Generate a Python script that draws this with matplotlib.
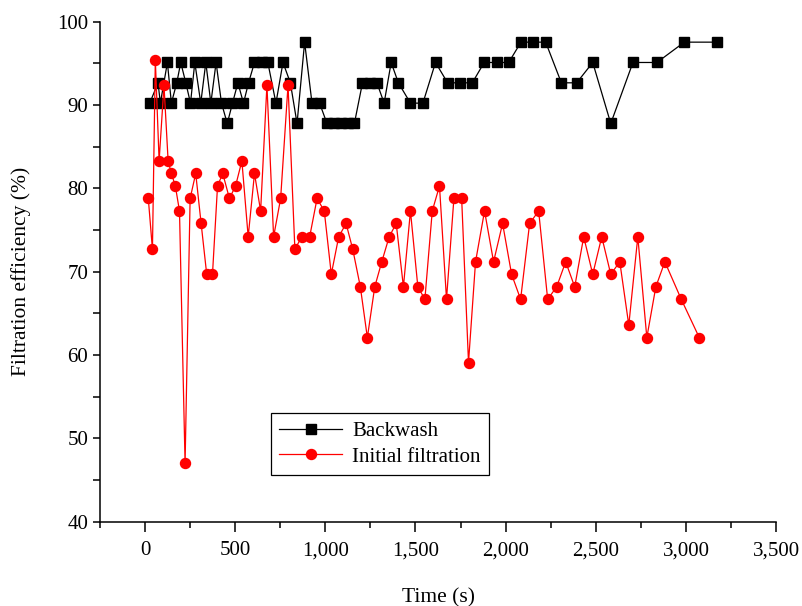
import numpy as np
import matplotlib.pyplot as plt
from matplotlib.ticker import MultipleLocator, FuncFormatter

plt.rcParams['font.family'] = ['Liberation Serif', 'DejaVu Serif']

# backwash series
t_back = [26, 72, 85, 124, 146, 176, 198, 226, 252, 276, 309, 337, 365, 394, 424, 456,
          485, 515, 546, 574, 607, 648, 681, 726, 765, 806, 843, 885, 926, 968,
          1009, 1047, 1085, 1123, 1161, 1206, 1246, 1286, 1326, 1365, 1405, 1472,
          1541, 1611, 1678, 1746, 1815, 1881, 1950, 2017, 2085, 2154, 2222, 2309,
          2394, 2483, 2583, 2706, 2839, 2991, 3172]
e_back = [90.24, 92.68, 90.24, 95.12, 90.24, 92.68, 95.12, 92.68, 90.24, 95.12, 90.24,
          95.12, 90.24, 95.12, 90.24, 87.80,
          90.24, 92.68, 90.24, 92.68, 95.12, 95.12, 95.12, 90.24, 95.12, 92.68, 87.80,
          97.56, 90.24, 90.24,
          87.80, 87.80, 87.80, 87.80, 87.80, 92.68, 92.68, 92.68, 90.24, 95.12, 92.68,
          90.24, 90.24, 95.12, 92.68, 92.68, 92.68, 95.12, 95.12, 95.12, 97.56, 97.56,
          97.56, 92.68, 92.68, 95.12, 87.80, 95.12, 95.12, 97.56, 97.56]

# initial filtration series
t_init = [18, 41, 57, 78, 105, 128, 146, 168, 191, 222, 250, 281, 311, 342, 374, 402,
          431, 468, 502, 537, 572, 607, 641, 676, 713, 752, 793, 831, 869, 913, 954,
          994, 1033, 1074, 1115, 1152, 1194, 1233, 1274, 1313, 1354, 1393, 1433, 1472,
          1513, 1552, 1593, 1633, 1672, 1713, 1756, 1794, 1833, 1883, 1933, 1983, 2033,
          2083, 2133, 2183, 2233, 2283, 2333, 2383, 2433, 2483, 2533, 2583, 2633, 2683,
          2733, 2783, 2833, 2883, 2974, 3074]
e_init = [78.8, 72.7, 95.45, 83.3, 92.4, 83.3, 81.8, 80.3, 77.3, 47.0, 78.8, 81.8, 75.8,
          69.7, 69.7, 80.3, 81.8, 78.8, 80.3, 83.3, 74.2, 81.8, 77.3, 92.4, 74.2, 78.8,
          92.4, 72.7, 74.2, 74.2, 78.8, 77.3, 69.7, 74.2, 75.8, 72.7, 68.2, 62.1, 68.2,
          71.2, 74.2, 75.8, 68.2, 77.3, 68.2, 66.7, 77.3, 80.3, 66.7, 78.8, 78.8, 59.1,
          71.2, 77.3, 71.2, 75.8, 69.7, 66.7, 75.8, 77.3, 66.7, 68.2, 71.2, 68.2, 74.2,
          69.7, 74.2, 69.7, 71.2, 63.6, 74.2, 62.1, 68.2, 71.2, 66.7, 62.1]

fig = plt.figure(figsize=(8.03, 6.06), dpi=100)
ax = fig.add_axes([0.1245, 0.139, 0.842, 0.825])

ax.plot(t_back, e_back, '-s', color='black', lw=0.9, ms=6.8, label='Backwash')
ax.plot(t_init, e_init, '-o', color='red', lw=0.9, ms=7.2, label='Initial filtration')

ax.set_xlim(-250, 3500)
ax.set_ylim(40, 100)
ax.spines['top'].set_visible(False)
ax.spines['right'].set_visible(False)
for s in ['left', 'bottom']:
    ax.spines[s].set_linewidth(1.1)

ax.xaxis.set_major_locator(MultipleLocator(500))
ax.xaxis.set_minor_locator(MultipleLocator(250))
ax.yaxis.set_major_locator(MultipleLocator(10))
ax.yaxis.set_minor_locator(MultipleLocator(5))
ax.xaxis.set_major_formatter(FuncFormatter(lambda v, p: '{:,}'.format(int(v)) if v >= 0 else ''))
ax.tick_params(axis='x', which='major', direction='out', length=7, width=1.1, labelsize=15, pad=7)
ax.tick_params(axis='x', which='minor', direction='out', length=4, width=1.1)
ax.tick_params(axis='y', which='both', direction='out', length=5, width=1.1, labelsize=15)

ax.set_xlabel('Time (s)', fontsize=15.5, labelpad=20)
ax.set_ylabel('Filtration efficiency (%)', fontsize=15.5, labelpad=19)

leg = ax.legend(loc='lower left', bbox_to_anchor=(0.253, 0.0935), fontsize=15,
                frameon=True, fancybox=False, edgecolor='black', framealpha=1,
                handlelength=3, handletextpad=0.5, borderpad=0.4, labelspacing=0.28,
                borderaxespad=0)
leg.get_frame().set_linewidth(0.9)

fig.savefig('out.png', dpi=100)
